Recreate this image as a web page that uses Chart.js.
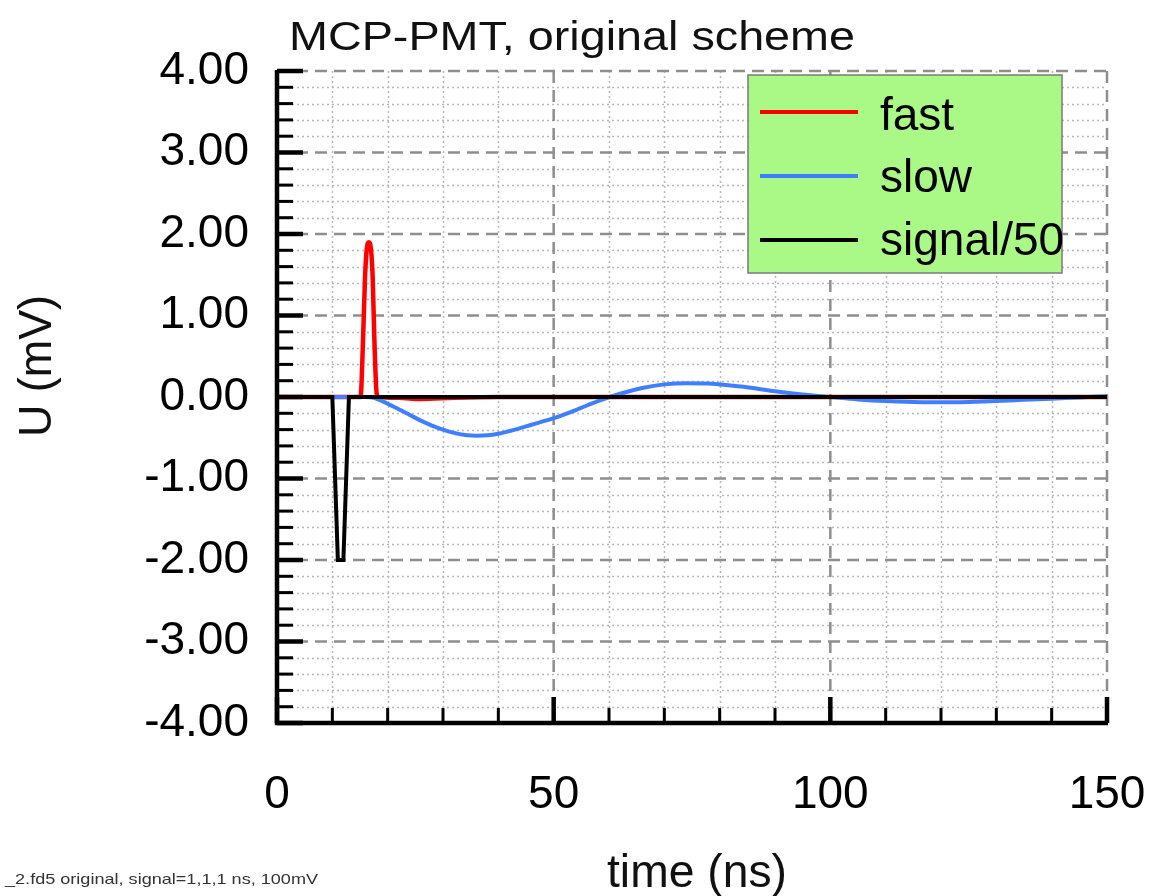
<!DOCTYPE html>
<html>
<head>
<meta charset="utf-8">
<script src="https://cdn.jsdelivr.net/npm/chart.js@4.4.1/dist/chart.umd.min.js"></script>
<style>
  body { margin: 0; background: #fff; }
  canvas { display: block; }
</style>
</head>
<body>
<canvas id="pulseChart" width="1157" height="896"></canvas>
<script>
// axis ticks
var xTicks = [0, 50, 100, 150];
var yTicks = [-4, -3, -2, -1, 0, 1, 2, 3, 4];
var xMinorStep = 10;
var yMinorStep = 0.2;

// signal/50 (black)
var signalT = [0, 10, 11, 12, 13, 150];
var signalV = [0, 0, -2, -2, 0, 0];

// fast (red)
var fastT = [0, 15.1, 15.5, 15.9, 16.2, 16.6, 17.0, 17.3, 17.6, 18.0, 18.3, 22, 26, 32, 40, 150];
var fastV = [0, 0, 0.6, 1.45, 1.8, 1.9, 1.8, 1.45, 0.7, 0.05, 0, -0.01, -0.025, -0.01, 0, 0];

// slow (blue)
var slowT = [0, 16, 17.5, 19, 20.5, 22, 24, 26, 28, 30, 32, 34, 36, 38, 40, 43, 46, 50, 54, 58, 62, 66, 70, 74, 78, 82, 86, 90, 95, 100, 105, 110, 115, 120, 125, 130, 135, 140, 145, 150];
var slowV = [0, 0, -0.01, -0.05, -0.10, -0.15, -0.22, -0.29, -0.35, -0.40, -0.44, -0.465, -0.475, -0.47, -0.45, -0.40, -0.34, -0.26, -0.16, -0.05, 0.04, 0.11, 0.155, 0.17, 0.165, 0.14, 0.11, 0.07, 0.03, 0.0, -0.03, -0.05, -0.06, -0.065, -0.06, -0.05, -0.035, -0.02, -0.005, 0.01];

var FONT = '"Liberation Sans", Arial, sans-serif';

function pts(t, v) {
  return t.map(function (x, i) { return { x: x, y: v[i] }; });
}

function line(ctx, x1, y1, x2, y2) {
  ctx.beginPath();
  ctx.moveTo(x1, y1);
  ctx.lineTo(x2, y2);
  ctx.stroke();
}

// draw text squeezed/stretched to a given width
function fitText(ctx, txt, x, y, size, width, align) {
  ctx.font = size + 'px ' + FONT;
  var w = ctx.measureText(txt).width;
  ctx.save();
  ctx.translate(x, y);
  ctx.scale(width / w, 1);
  ctx.textAlign = align;
  ctx.textBaseline = 'alphabetic';
  ctx.fillText(txt, 0, 0);
  ctx.restore();
}

var gridPlugin = {
  id: 'gridPlugin',
  beforeDatasetsDraw: function (chart) {
    var ctx = chart.ctx, xs = chart.scales.x, ys = chart.scales.y, a = chart.chartArea;
    var i, p;
    ctx.save();
    // minor dotted grid
    ctx.strokeStyle = '#b8b8b8';
    ctx.lineWidth = 1.5;
    ctx.setLineDash([2, 3]);
    for (i = 1; i < (xs.max - xs.min) / xMinorStep; i++) {
      if (i % 5 === 0) continue;
      p = Math.round(xs.getPixelForValue(xs.min + i * xMinorStep)) + 0.5;
      line(ctx, p, a.top, p, a.bottom);
    }
    for (i = 1; i < (ys.max - ys.min) / yMinorStep; i++) {
      if (i % 5 === 0) continue;
      p = Math.round(ys.getPixelForValue(ys.min + i * yMinorStep)) + 0.5;
      line(ctx, a.left, p, a.right, p);
    }
    // major dashed grid
    ctx.strokeStyle = '#8e8e8e';
    ctx.lineWidth = 2.5;
    ctx.setLineDash([12, 7]);
    xTicks.forEach(function (v) {
      if (v === xs.min) return;
      p = xs.getPixelForValue(v);
      line(ctx, p, a.top, p, a.bottom);
    });
    yTicks.forEach(function (v) {
      if (v === ys.min) return;
      p = ys.getPixelForValue(v);
      line(ctx, a.left, p, a.right, p);
    });
    ctx.restore();
  },
  afterDatasetsDraw: function (chart) {
    var ctx = chart.ctx, xs = chart.scales.x, ys = chart.scales.y, a = chart.chartArea;
    var i, p;
    ctx.save();
    ctx.strokeStyle = '#000';
    // minor ticks (inward)
    ctx.lineWidth = 3;
    for (i = 1; i < (xs.max - xs.min) / xMinorStep; i++) {
      if (i % 5 === 0) continue;
      p = xs.getPixelForValue(xs.min + i * xMinorStep);
      line(ctx, p, a.bottom, p, a.bottom - 15);
    }
    for (i = 1; i < (ys.max - ys.min) / yMinorStep; i++) {
      if (i % 5 === 0) continue;
      p = ys.getPixelForValue(ys.min + i * yMinorStep);
      line(ctx, a.left, p, a.left + 16, p);
    }
    // major ticks
    ctx.lineWidth = 4.5;
    xTicks.forEach(function (v) {
      p = xs.getPixelForValue(v);
      line(ctx, p, a.bottom, p, a.bottom - 26);
    });
    yTicks.forEach(function (v) {
      p = ys.getPixelForValue(v);
      line(ctx, a.left, p, a.left + 26, p);
    });
    // axis lines
    ctx.lineWidth = 4.5;
    line(ctx, a.left, a.top - 1, a.left, a.bottom + 2);
    line(ctx, a.left - 2, a.bottom, a.right + 1, a.bottom);

    // legend box
    ctx.fillStyle = '#aaf986';
    ctx.fillRect(748, 75, 314, 198);
    ctx.strokeStyle = '#7a7a7a';
    ctx.lineWidth = 1.5;
    ctx.strokeRect(748, 75, 314, 198);
    var leg = chart.data.datasets.slice().reverse();
    var ly = [112, 176, 240];
    var by = [130, 192, 255];
    leg.forEach(function (ds, k) {
      ctx.strokeStyle = ds.borderColor;
      ctx.lineWidth = 4;
      line(ctx, 760, ly[k], 858, ly[k]);
      ctx.fillStyle = '#000';
      ctx.font = '46px ' + FONT;
      ctx.textAlign = 'left';
      ctx.textBaseline = 'alphabetic';
      ctx.fillText(ds.label, 880, by[k]);
    });

    // titles
    ctx.fillStyle = '#111';
    fitText(ctx, 'MCP-PMT, original scheme', 289, 50, 41, 566, 'left');
    fitText(ctx, 'time (ns)', 607, 887, 46, 180, 'left');
    ctx.save();
    ctx.translate(51, 366);
    ctx.rotate(-Math.PI / 2);
    fitText(ctx, 'U (mV)', 0, 0, 46, 142, 'center');
    ctx.restore();
    ctx.fillStyle = '#333';
    fitText(ctx, '_2.fd5 original, signal=1,1,1 ns, 100mV', 5, 884, 15, 313, 'left');
    ctx.restore();
  }
};

var ctx = document.getElementById('pulseChart').getContext('2d');
var pulseChart = new Chart(ctx, {
  type: 'line',
  data: {
    datasets: [
      { label: 'signal/50', data: pts(signalT, signalV), borderColor: '#000000', borderWidth: 4, tension: 0 },
      { label: 'slow', data: pts(slowT, slowV), borderColor: '#3f7fff', borderWidth: 4, cubicInterpolationMode: 'monotone' },
      { label: 'fast', data: pts(fastT, fastV), borderColor: '#ff0000', borderWidth: 4.5, cubicInterpolationMode: 'monotone' }
    ]
  },
  options: {
    responsive: false,
    animation: false,
    devicePixelRatio: 1,
    layout: { padding: { top: 71, right: 50, bottom: 0, left: 0 } },
    elements: { point: { radius: 0 }, line: { fill: false } },
    plugins: { legend: { display: false }, tooltip: { enabled: false }, title: { display: false } },
    scales: {
      x: {
        type: 'linear',
        min: 0,
        max: 150,
        grid: { display: false },
        border: { display: false },
        afterBuildTicks: function (s) { s.ticks = xTicks.map(function (v) { return { value: v }; }); },
        afterFit: function (s) { s.height = 173; s.paddingLeft = 0; s.paddingRight = 0; },
        ticks: {
          color: '#000',
          font: { family: FONT, size: 46 },
          padding: 37,
          maxRotation: 0,
          autoSkip: false
        }
      },
      y: {
        type: 'linear',
        min: -4,
        max: 4,
        grid: { display: false },
        border: { display: false },
        afterBuildTicks: function (s) { s.ticks = yTicks.map(function (v) { return { value: v }; }); },
        afterFit: function (s) { s.width = 277; },
        ticks: {
          color: '#000',
          font: { family: FONT, size: 46 },
          padding: 20,
          callback: function (v) { return Number(v).toFixed(2); }
        }
      }
    }
  },
  plugins: [gridPlugin]
});
</script>
</body>
</html>
